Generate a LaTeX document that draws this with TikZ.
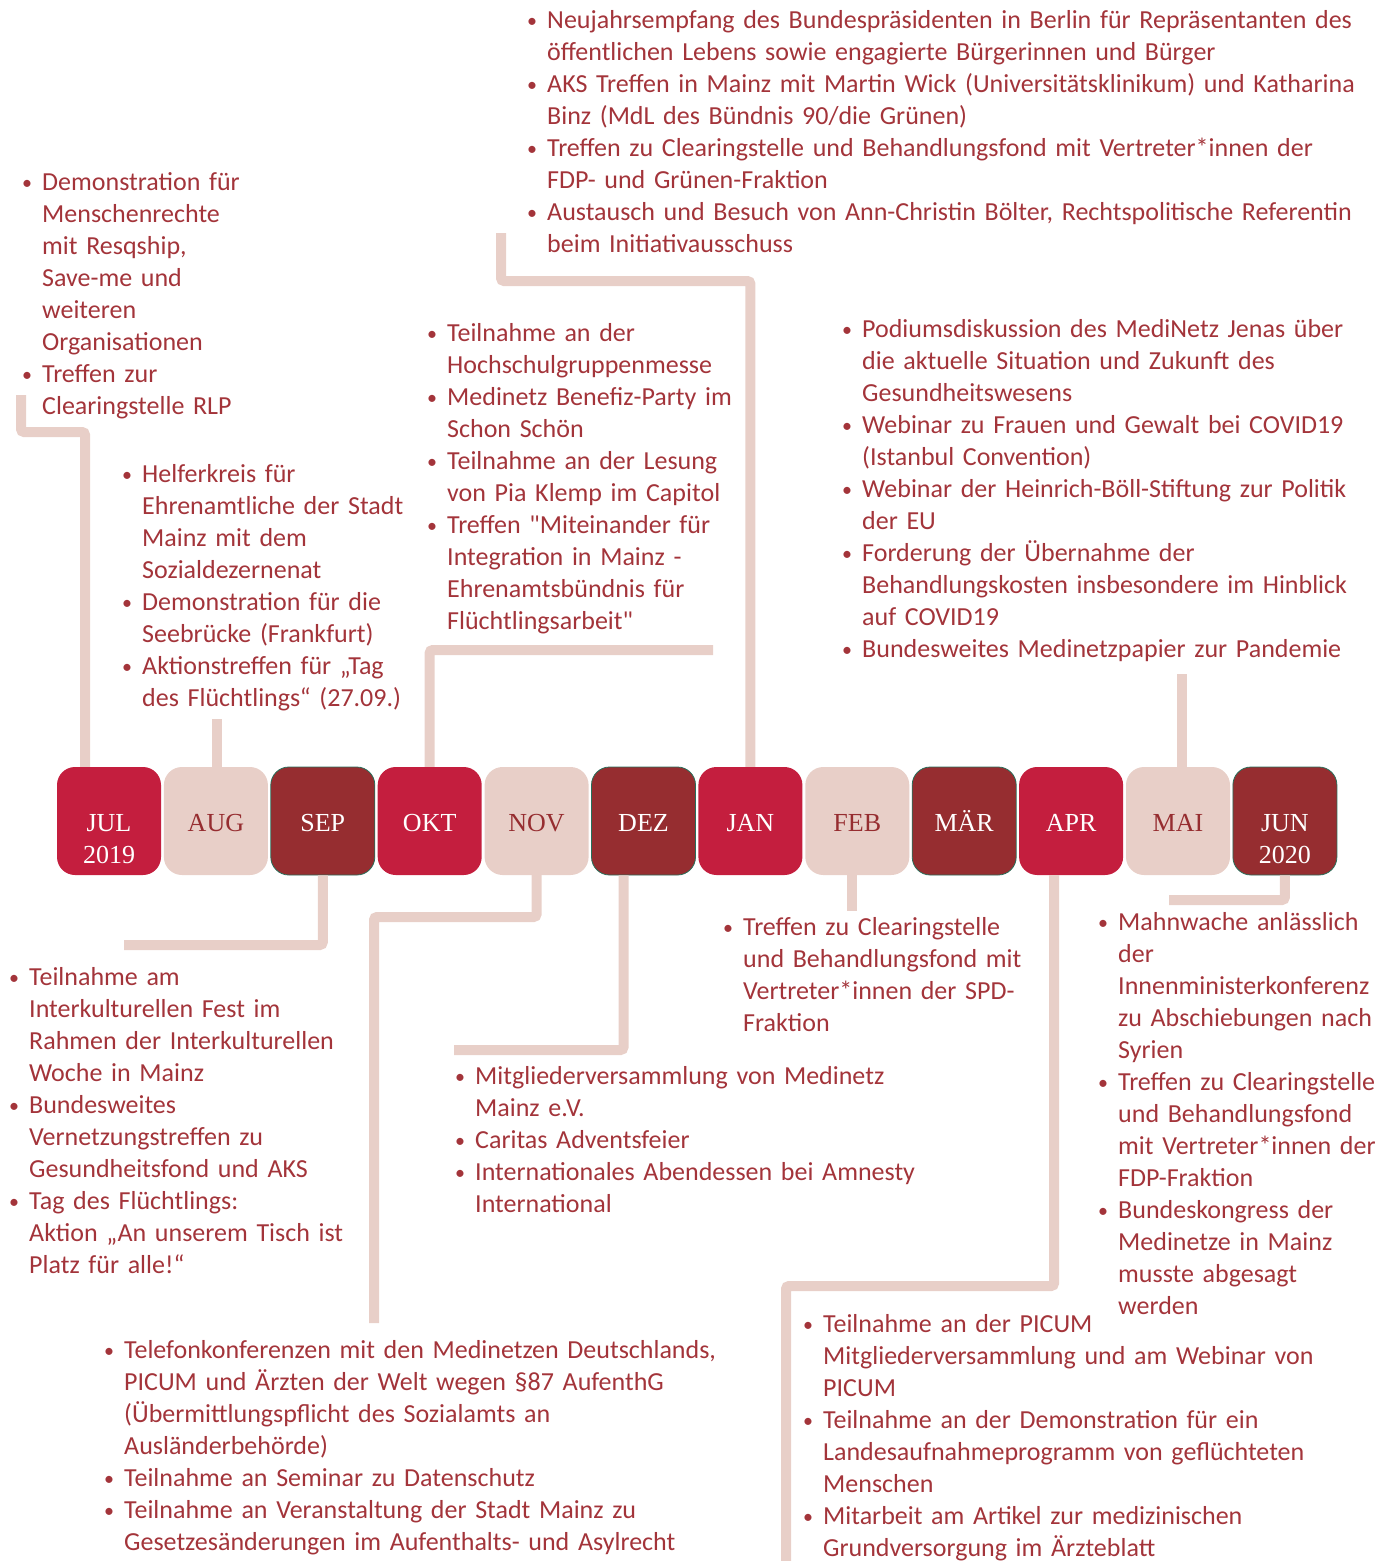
\documentclass[tikz,border=0pt]{standalone}
\usepackage{fontspec}
\newfontfamily\evfont{Carlito}
\newfontfamily\monfont{Liberation Serif}
\definecolor{crimson}{RGB}{196,30,62}
\definecolor{wine}{RGB}{150,45,48}
\definecolor{blush}{RGB}{232,207,200}
\definecolor{evtext}{RGB}{163,52,58}
\definecolor{rim}{RGB}{40,110,90}
\hyphenpenalty=10000
\exhyphenpenalty=10000
\newlength{\itmw}
\setlength{\itmw}{21pt}
\newcommand{\itm}[1]{\hangindent\itmw\hangafter1 \noindent
  \hbox to\itmw{\kern1pt\raisebox{1pt}{\fontsize{20}{20}\selectfont•}\hss}#1\par}

\begin{document}
\begin{tikzpicture}[x=1pt,y=-1pt,
      mon/.style={rounded corners=18pt,minimum width=104pt,minimum height=108pt,
                  inner sep=0pt,text height=21pt,text depth=0pt,
                  font=\monfont\fontsize{26}{30}\selectfont},
      mred/.style={mon,fill=crimson,text=white},
      mpale/.style={mon,fill=blush,text=wine},
      mdark/.style={mon,fill=wine,draw=rim,line width=0.8pt,text=white},
      yr/.style={anchor=base,inner sep=0pt,text=white,
                 font=\monfont\fontsize{26}{30}\selectfont},
      ev/.style={anchor=base west,inner sep=0pt,align=left,text=evtext,
                 font=\evfont\fontsize{26}{32}\selectfont},
      con/.style={draw=blush,line width=10pt,rounded corners=3pt}]
      \useasboundingbox (0,0) rectangle (1395,1561);

      % months
      \node[mred]  (jul) at (109,821) {JUL};
      \node[mpale] (aug) at (215.9,821) {AUG};
      \node[mdark] (sep) at (322.8,821) {SEP};
      \node[mred]  (okt) at (429.7,821) {OKT};
      \node[mpale] (nov) at (536.6,821) {NOV};
      \node[mdark] (dez) at (643.5,821) {DEZ};
      \node[mred]  (jan) at (750.4,821) {JAN};
      \node[mpale] (feb) at (857.3,821) {FEB};
      \node[mdark] (mar) at (964.2,821) {MÄR};
      \node[mred]  (apr) at (1071.1,821) {APR};
      \node[mpale] (mai) at (1178,821) {MAI};
      \node[mdark] (jun) at (1284.9,821) {JUN};
      \node[yr] (jul-y) at ([yshift=-32pt]jul.base) {2019};
      \node[yr] (jun-y) at ([yshift=-32pt]jun.base) {2020};

      % events above
      \node[ev,text width=860pt] (jan-t) at (526,28) {%
        \itm{Neujahrsempfang des Bundespräsidenten in Berlin für Repräsentanten des\newline
        öffentlichen Lebens sowie engagierte Bürgerinnen und Bürger}%
        \itm{AKS Treffen in Mainz mit Martin Wick (Universitätsklinikum) und Katharina\newline
        Binz (MdL des Bündnis 90/die Grünen)}%
        \itm{Treffen zu Clearingstelle und Behandlungsfond mit Vertreter*innen der\newline
        FDP- und Grünen-Fraktion}%
        \itm{Austausch und Besuch von Ann-Christin Bölter, Rechtspolitische Referentin\newline
        beim Initiativausschuss}};
      \node[ev,text width=240pt] (jul-t) at (21,190) {%
        \itm{Demonstration für\newline Menschenrechte\newline mit Resqship,\newline
        Save-me und\newline weiteren\newline Organisationen}%
        \itm{Treffen zur\newline Clearingstelle RLP}};
      \node[ev,text width=300pt] (aug-t) at (121,482) {%
        \itm{Helferkreis für\newline Ehrenamtliche der Stadt\newline Mainz mit dem\newline
        Sozialdezernenat}%
        \itm{Demonstration für die\newline Seebrücke (Frankfurt)}%
        \itm{Aktionstreffen für „Tag\newline des Flüchtlings“ (27.09.)}};
      \node[ev,text width=330pt] (okt-t) at (426,341) {%
        \itm{Teilnahme an der\newline Hochschulgruppenmesse}%
        \itm{Medinetz Benefiz-Party im\newline Schon Schön}%
        \itm{Teilnahme an der Lesung\newline von Pia Klemp im Capitol}%
        \itm{Treffen "Miteinander für\newline Integration in Mainz -\newline
        Ehrenamtsbündnis für\newline Flüchtlingsarbeit"}};
      \node[ev,text width=540pt] (mai-t) at (841,337) {%
        \itm{Podiumsdiskussion des MediNetz Jenas über\newline
        die aktuelle Situation und Zukunft des\newline Gesundheitswesens}%
        \itm{Webinar zu Frauen und Gewalt bei COVID19\newline (Istanbul Convention)}%
        \itm{Webinar der Heinrich-Böll-Stiftung zur Politik\newline der EU}%
        \itm{Forderung der Übernahme der\newline
        Behandlungskosten insbesondere im Hinblick\newline auf COVID19}%
        \itm{Bundesweites Medinetzpapier zur Pandemie}};

      % events below
      \node[ev,text width=350pt] (sep-t) at (8,985) {%
        \itm{Teilnahme am\newline Interkulturellen Fest im\newline
        Rahmen der Interkulturellen\newline Woche in Mainz}%
        \itm{Bundesweites\newline Vernetzungstreffen zu\newline Gesundheitsfond und AKS}%
        \itm{Tag des Flüchtlings:\newline Aktion „An unserem Tisch ist\newline
        Platz für alle!“}};
      \node[ev,text width=480pt] (dez-t) at (454,1084) {%
        \itm{Mitgliederversammlung von Medinetz\newline Mainz e.V.}%
        \itm{Caritas Adventsfeier}%
        \itm{Internationales Abendessen bei Amnesty\newline International}};
      \node[ev,text width=660pt] (nov-t) at (103,1358) {%
        \itm{Telefonkonferenzen mit den Medinetzen Deutschlands,\newline
        PICUM und Ärzten der Welt wegen §87 AufenthG\newline
        (Übermittlungspflicht des Sozialamts an\newline Ausländerbehörde)}%
        \itm{Teilnahme an Seminar zu Datenschutz}%
        \itm{Teilnahme an Veranstaltung der Stadt Mainz zu\newline
        Gesetzesänderungen im Aufenthalts- und Asylrecht}};
      \node[ev,text width=330pt] (feb-t) at (722,935) {%
        \itm{Treffen zu Clearingstelle\newline und Behandlungsfond mit\newline
        Vertreter*innen der SPD-\newline Fraktion}};
      \node[ev,text width=298pt] (jun-t) at (1097,930) {%
        \itm{Mahnwache anlässlich\newline der\newline Innenministerkonferenz\newline
        zu Abschiebungen nach\newline Syrien}%
        \itm{Treffen zu Clearingstelle\newline und Behandlungsfond\newline
        mit Vertreter*innen der\newline FDP-Fraktion}%
        \itm{Bundeskongress der\newline Medinetze in Mainz\newline
        musste abgesagt\newline werden}};
      \node[ev,text width=560pt] (apr-t) at (802,1332) {%
        \itm{Teilnahme an der PICUM\newline
        Mitgliederversammlung und am Webinar von\newline PICUM}%
        \itm{Teilnahme an der Demonstration für ein\newline
        Landesaufnahmeprogramm von geflüchteten\newline Menschen}%
        \itm{Mitarbeit am Artikel zur medizinischen\newline
        Grundversorgung im Ärzteblatt}};

      % connectors
      \coordinate (jul-end) at (21,395);
      \coordinate (aug-end) at (217,719);
      \coordinate (okt-end) at (713,650);
      \coordinate (jan-end) at (501,233);
      \coordinate (mai-end) at (1182,674);
      \coordinate (sep-end) at (124,945);
      \coordinate (nov-bend) at (374,917);
      \coordinate (nov-end) at (374,1323);
      \coordinate (dez-end) at (454,1050);
      \coordinate (feb-end) at (852,911);
      \coordinate (apr-bend) at (786,1286);
      \coordinate (apr-end) at (786,1565);
      \coordinate (jun-end) at (1169,900);
      \draw[con] ([xshift=-24pt]jul.north) |- ([yshift=-37pt]jul-end) -- (jul-end);
      \draw[con] (aug.north -| aug-end) -- (aug-end);
      \draw[con] (okt.north) |- (okt-end);
      \draw[con] (jan.north) |- ([yshift=-48pt]jan-end) -- (jan-end);
      \draw[con] (mai.north -| mai-end) -- (mai-end);
      \draw[con] (sep.south) |- (sep-end);
      \draw[con] (nov.south) |- (nov-bend) -- (nov-end);
      \draw[con] ([xshift=-20pt]dez.south) |- (dez-end);
      \draw[con] (feb.south -| feb-end) -- (feb-end);
      \draw[con] ([xshift=-17pt]apr.south) |- (apr-bend) -- (apr-end);
      \draw[con] (jun.south) |- (jun-end);
    \end{tikzpicture}
\end{document}
